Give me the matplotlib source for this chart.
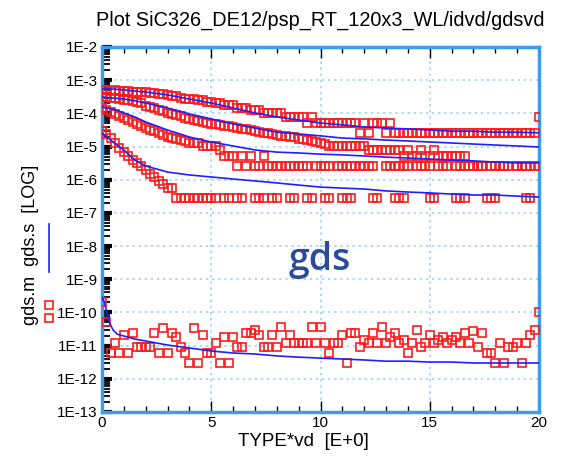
import numpy as np
import matplotlib
matplotlib.use('Agg')
import matplotlib.pyplot as plt
from matplotlib.ticker import FixedLocator, MultipleLocator, NullFormatter
from matplotlib.lines import Line2D

nan = np.nan

# drain sweep of the measurement (0 .. 20 V, 0.2 V step)
vd = np.linspace(0, 20, 101)

# measured gds (red squares), one list per gate bias
meas_a = ([5.0e-4, 5.0e-4, 4.75e-4, 5.0e-4, 4.75e-4, 4.75e-4, 4.75e-4, 4.5e-4, 4.5e-4, 4.5e-4,
           4.5e-4, 4.25e-4, 4.0e-4, 3.75e-4, 3.75e-4, 3.5e-4, 3.25e-4, 3.25e-4, 3.0e-4, 2.75e-4,
           2.75e-4, 2.75e-4, 2.5e-4, 2.5e-4, 2.25e-4, 2.25e-4, 2.0e-4, 2.0e-4, 1.75e-4, 1.75e-4,
           1.75e-4, 1.5e-4, 1.5e-4, 1.5e-4, 1.25e-4, 1.25e-4, 1.25e-4, 1.0e-4, 1.0e-4, 1.0e-4,
           1.0e-4, 1.0e-4, 7.7e-5, 7.7e-5, 7.7e-5, 7.7e-5, 7.7e-5, 5.1e-5, 7.7e-5, 5.1e-5,
           5.1e-5, 5.1e-5, 5.1e-5, 5.1e-5, 5.1e-5, 5.1e-5, 5.1e-5, 5.1e-5, 5.1e-5, 2.56e-5,
           5.1e-5, 2.56e-5, 5.1e-5, 5.1e-5, 5.1e-5, 2.56e-5, 5.1e-5, 2.56e-5, 2.56e-5, 2.56e-5]
          + [2.56e-5] * 30 + [7.7e-5])

meas_b = [3.1e-4, 3.1e-4, 2.9e-4, 2.9e-4, 2.7e-4, 2.5e-4, 2.5e-4, 2.4e-4, 2.2e-4, 2.05e-4,
          1.7e-4, 1.55e-4, 1.45e-4, 1.26e-4, 1.18e-4, 1.03e-4, 9.6e-5, 8.9e-5, 8.3e-5, 7.3e-5,
          6.8e-5, 6.3e-5, 5.9e-5, 5.5e-5, 5.1e-5, 4.8e-5, 4.8e-5, 4.5e-5, 4.2e-5, 4.2e-5,
          3.9e-5, 3.6e-5, 3.4e-5, 3.4e-5, 3.15e-5, 2.9e-5, 2.7e-5, 2.6e-5, 2.6e-5, 2.4e-5,
          2.2e-5, 2.1e-5, 2.1e-5, 1.9e-5, 1.9e-5, 1.7e-5, 1.7e-5, 1.6e-5, 1.5e-5, 1.4e-5,
          1.3e-5, 1.2e-5, 1.04e-5, 1.04e-5, 1.04e-5, 1.04e-5, 1.04e-5, 1.04e-5, 1.04e-5, 1.04e-5,
          1.04e-5, 7.8e-6, 7.8e-6, 7.8e-6, 7.8e-6, 7.8e-6, 7.8e-6, 7.8e-6, 7.8e-6, 5.2e-6,
          7.8e-6, 5.2e-6, 5.2e-6, 7.8e-6, 5.2e-6, 5.2e-6, 7.8e-6, 5.2e-6, 5.2e-6, 5.2e-6,
          5.2e-6, 5.2e-6, 5.2e-6, 5.2e-6, 2.6e-6, 2.6e-6, 2.6e-6, 2.6e-6, nan, 2.6e-6,
          2.6e-6, nan, 2.6e-6, 2.6e-6, nan, 2.6e-6, 2.6e-6, nan, 2.6e-6, 2.6e-6,
          2.6e-6]

meas_c = [1.45e-4, 1.26e-4, 1.1e-4, 9.6e-5, 8.3e-5, 7.3e-5, 6.3e-5, 5.5e-5, 4.8e-5, 4.2e-5,
          3.6e-5, 3.15e-5, 2.9e-5, 2.6e-5, 2.2e-5, 1.94e-5, 1.8e-5, 1.7e-5, 1.6e-5, 1.5e-5,
          1.3e-5, 1.3e-5, 1.3e-5, 1.04e-5, 1.04e-5, 1.04e-5, 1.04e-5, 7.8e-6, 5.2e-6, 5.2e-6,
          5.2e-6, 2.6e-6, 5.2e-6, 2.6e-6, 5.2e-6, 2.6e-6, 2.6e-6, 5.2e-6, 2.6e-6, 2.6e-6,
          2.6e-6, 2.6e-6, 2.6e-6, 2.6e-6, 2.6e-6, 2.6e-6, 2.6e-6, 2.6e-6, nan, 2.6e-6,
          2.6e-6, 2.6e-6, 2.6e-6, nan, 2.6e-6, 2.6e-6, 2.6e-6, 2.6e-6, 2.6e-6, 2.6e-6,
          2.6e-6, 2.6e-6, 2.6e-6, nan, nan, 2.6e-6, 2.6e-6, 2.6e-6, 2.6e-6, 2.6e-6,
          2.6e-6, nan, 2.6e-6, 2.6e-6, 2.6e-6, 2.6e-6, nan, 2.6e-6, 2.6e-6, 2.6e-6,
          nan, 2.6e-6, 2.6e-6, 2.6e-6, nan, 2.6e-6, 2.6e-6, 2.6e-6, nan, nan,
          2.6e-6, 2.6e-6, 2.6e-6, nan, nan, 2.6e-6, 2.6e-6, 2.6e-6, nan, nan,
          nan]

meas_d = [2.9e-5, 2.4e-5, 1.8e-5, 1.3e-5, 9.0e-6, 6.8e-6, 5.2e-6, 3.9e-6, 3.2e-6, 2.6e-6,
          2.0e-6, 1.5e-6, 1.2e-6, 9.2e-7, 7.4e-7, 5.6e-7, 5.6e-7, 2.8e-7, 2.8e-7, 2.8e-7,
          2.8e-7, 2.8e-7, 2.8e-7, 2.8e-7, 2.8e-7, 2.8e-7, 2.8e-7, nan, 2.8e-7, 2.8e-7,
          nan, 2.8e-7, 2.8e-7, nan, nan, 2.8e-7, 2.8e-7, 2.8e-7, nan, 2.8e-7,
          2.8e-7, nan, nan, 2.8e-7, 2.8e-7, nan, nan, 2.8e-7, 2.8e-7, nan,
          nan, 2.8e-7, 2.8e-7, nan, nan, 2.8e-7, 2.8e-7, 2.8e-7, nan, nan,
          nan, nan, 2.8e-7, 2.8e-7, nan, nan, nan, 2.8e-7, 2.8e-7, 2.8e-7,
          nan, nan, nan, nan, nan, 2.8e-7, 2.8e-7, nan, nan, nan,
          nan, 2.8e-7, 2.8e-7, 2.8e-7, nan, nan, nan, nan, 2.8e-7, 2.8e-7,
          2.8e-7, nan, nan, nan, nan, nan, nan, 2.8e-7, 2.8e-7, nan,
          nan]

meas_off = [2.0e-10, 5.1e-11, 6e-12, 1.2e-11, 6e-12, 2.1e-11, 6e-12, 2.4e-11, 9e-12, 9e-12,
            9e-12, 9e-12, 2.4e-11, 6e-12, 3.3e-11, 6e-12, 2.4e-11, 1.8e-11, 9e-12, 6e-12,
            3e-12, 3.3e-11, 3e-12, 2.1e-11, 6e-12, 6e-12, 1.2e-11, 3e-12, 1.8e-11, 3e-12,
            1.8e-11, 9e-12, 9e-12, 2.4e-11, 2.4e-11, 3e-11, 2.1e-11, 9e-12, 9e-12, 2.1e-11,
            9e-12, 3.6e-11, 1.2e-11, 2.1e-11, 1.2e-11, 1.2e-11, 1.2e-11, 1.2e-11, 3.6e-11, 1.2e-11,
            3.6e-11, 1.2e-11, 6e-12, 1.2e-11, 1.2e-11, 2.1e-11, 3e-12, 2.4e-11, 2.4e-11, 9e-12,
            1.5e-11, 1.2e-11, 2.4e-11, 1.2e-11, 3.6e-11, 1.2e-11, 1.8e-11, 2.4e-11, 1.2e-11, 1.5e-11,
            6e-12, 1.2e-11, 3e-11, 9e-12, 1.2e-11, 2.1e-11, 1.2e-11, 1.5e-11, 1.8e-11, 1.2e-11,
            1.5e-11, 1.8e-11, 1.2e-11, 2.4e-11, 1.2e-11, 2.7e-11, 9e-12, 2.4e-11, 6e-12, 6e-12,
            3e-12, 1.2e-11, 3e-12, 9e-12, 9e-12, 1.2e-11, 3e-12, 1.2e-11, 2.1e-11, 3e-11,
            1.0e-10]

# simulated gds (blue lines)
sim_x = [0, 0.5, 1, 1.5, 2, 3, 4, 5, 6, 7, 8, 9, 10, 11, 12, 13, 14, 15, 16, 17, 18, 19, 20]
sim_a = [5.4e-4, 5.4e-4, 5.1e-4, 4.7e-4, 4.4e-4, 3.6e-4, 2.7e-4, 2.05e-4, 1.45e-4, 1.03e-4, 7.8e-5,
         6.3e-5, 5.1e-5, 4.5e-5, 3.9e-5, 3.6e-5, 3.4e-5, 3.15e-5, 2.9e-5, 2.9e-5, 2.7e-5, 2.7e-5, 2.6e-5]
sim_b = [3.1e-4, 2.9e-4, 2.7e-4, 2.4e-4, 2.05e-4, 1.45e-4, 9.6e-5, 6.8e-5, 4.8e-5, 3.6e-5, 2.7e-5,
         2.4e-5, 2.1e-5, 1.8e-5, 1.7e-5, 1.57e-5, 1.47e-5, 1.37e-5, 1.28e-5, 1.19e-5, 1.11e-5, 1.04e-5, 9.7e-6]
sim_c = [1.55e-4, 1.35e-4, 1.03e-4, 7.8e-5, 5.5e-5, 3.15e-5, 1.94e-5, 1.37e-5, 1.04e-5, 7.9e-6, 6.8e-6,
         6.4e-6, 5.9e-6, 5.6e-6, 5.2e-6, 4.8e-6, 4.5e-6, 4.2e-6, 3.9e-6, 3.7e-6, 3.4e-6, 3.2e-6, 3.2e-6]
sim_d = [2.56e-5, 1.37e-5, 7.9e-6, 3.9e-6, 2.6e-6, 1.7e-6, 1.39e-6, 1.21e-6, 1.05e-6, 9.2e-7, 8.0e-7,
         6.9e-7, 6.0e-7, 5.6e-7, 5.25e-7, 4.6e-7, 4.26e-7, 4.0e-7, 3.7e-7, 3.46e-7, 3.46e-7, 3.2e-7, 3.0e-7]
sim_off_x = [0, 0.1, 0.2, 0.35, 0.5, 0.7, 1, 1.5, 2, 2.5, 3, 4, 5, 6, 7, 8, 9, 10, 11, 12, 13,
             14, 15, 16, 17, 18, 19, 20]
sim_off = [2.9e-10, 2.1e-10, 1.2e-10, 4.8e-11, 3.0e-11, 2.2e-11, 1.95e-11, 1.58e-11, 1.38e-11, 1.2e-11,
           1.04e-11, 8.5e-12, 6.9e-12, 6.0e-12, 5.6e-12, 4.9e-12, 4.5e-12, 4.2e-12, 3.95e-12, 3.7e-12,
           3.4e-12, 3.4e-12, 3.2e-12, 3.2e-12, 3.0e-12, 3.0e-12, 3.0e-12, 3.0e-12]

ytick_vals = [1e-13, 1e-12, 1e-11, 1e-10, 1e-9, 1e-8, 1e-7, 1e-6, 1e-5, 1e-4, 1e-3, 1e-2]
ytick_labels = ['1E-13', '1E-12', '1E-11', '1E-10', '1E-9', '1E-8', '1E-7', '1E-6',
                '1E-5', '1E-4', '1E-3', '1E-2']
xtick_vals = [0, 5, 10, 15, 20]

plt.rcParams['font.family'] = ['Liberation Sans', 'DejaVu Sans']

W, H = 561, 457
fig = plt.figure(figsize=(W / 100, H / 100), dpi=100)
ax = fig.add_axes([102 / W, 45 / H, 437 / W, 365 / H])

for m in [meas_a, meas_b, meas_c, meas_d, meas_off]:
    ax.plot(vd, m, ls='none', marker='s', ms=5.4, mfc='none', mec='#ff1a1a', mew=1.2, zorder=3)
for s in [sim_a, sim_b, sim_c, sim_d]:
    ax.plot(sim_x, s, color='#1f1fff', lw=1.2, zorder=4)
ax.plot(sim_off_x, sim_off, color='#1f1fff', lw=1.2, zorder=4)

ax.set_yscale('log')
ax.set_xlim(0, 20)
ax.set_ylim(1e-13, 1e-2)
ax.yaxis.set_major_locator(FixedLocator(ytick_vals))
ax.set_yticklabels(ytick_labels)
ax.yaxis.set_minor_locator(matplotlib.ticker.LogLocator(base=10, subs=np.arange(2, 10), numticks=50))
ax.yaxis.set_minor_formatter(NullFormatter())
ax.set_xticks(xtick_vals)
ax.set_xticklabels([str(v) for v in xtick_vals])
ax.xaxis.set_minor_locator(MultipleLocator(1))

ax.tick_params(axis='both', which='major', labelsize=11, colors='black', direction='in')
ax.tick_params(axis='y', which='major', length=7, width=3, left=True, right=False, pad=3)
ax.tick_params(axis='y', which='minor', length=6, width=1.3, direction='in', left=True, right=False)
ax.tick_params(axis='x', which='major', length=8, width=1, top=True, bottom=True, pad=3)
ax.tick_params(axis='x', which='minor', length=4, width=1, direction='in', top=True, bottom=True)

ax.grid(True, which='major', color='#8fd0f5', linestyle=(0, (1.5, 2.5)), lw=1.1)
for sp in ax.spines.values():
    sp.set_color('#3d9bf0')
    sp.set_linewidth(2.5)

fig.text(320 / W, 1 - 20 / H, 'Plot SiC326_DE12/psp_RT_120x3_WL/idvd/gdsvd',
         ha='center', va='center', fontsize=14.3)
fig.text(303 / W, 1 - 442 / H, 'TYPE*vd  [E+0]', ha='center', va='center', fontsize=13.5)
fig.text(31 / W, 1 - 245 / H, 'gds.m  gds.s  [LOG]', rotation=90,
         ha='center', va='center', fontsize=13)

# legend marks beside the y label
fig.add_artist(Line2D([49 / W, 49 / W], [1 - 305 / H, 1 - 318 / H], transform=fig.transFigure,
                      ls='none', marker='s', ms=5.4, mfc='none', mec='#ff1a1a', mew=1.2))
fig.add_artist(Line2D([49 / W, 49 / W], [1 - 224 / H, 1 - 272 / H], transform=fig.transFigure,
                      color='#1f1fff', lw=1.2))

fig.text(320 / W, 1 - 260 / H, 'gds', ha='center', va='center', fontsize=27,
         color='#2b4c9b', family='Open Sans', fontweight='semibold')

fig.savefig('out.png', dpi=100)
